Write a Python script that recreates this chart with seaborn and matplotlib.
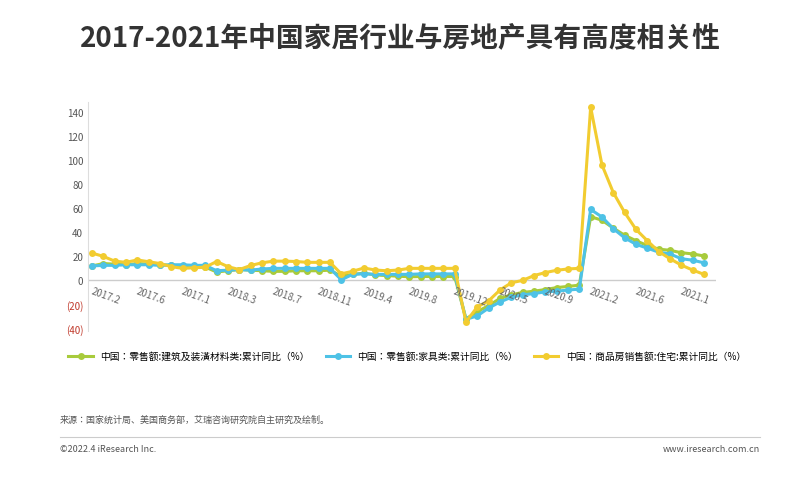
import matplotlib
matplotlib.use("Agg")
import matplotlib.pyplot as plt
from matplotlib import font_manager as fm
import seaborn as sns
import pandas as pd

cjk = [f.name for f in fm.fontManager.ttflist if "CJK" in f.name]
plt.rcParams["font.family"] = "sans-serif"
plt.rcParams["font.sans-serif"] = ["Noto Sans CJK SC", "Noto Sans CJK JP"] + sorted(set(cjk)) + ["DejaVu Sans"]

tick_labels = ["2017.2","2017.6","2017.1","2018.3","2018.7","2018.11","2019.4","2019.8",
               "2019.12","2020.5","2020.9","2021.2","2021.6","2021.1"]

green = [12,14,13.5,13,14,13.5,13,12.5,11,11,11,
         7,8,9,8.5,8,7.5,7.5,8,8,8,8.5,
         3.5,5,6,4.5,4,3.5,3,3.2,3.2,3.2,3.2,
         -32,-26,-21,-15,-12,-10,-9,-7.6,-6,-5,-4,
         53,50,43.5,37.5,33,29,26,25,23,22,20.3]
blue = [12,12.5,12.5,13,13,13,12.5,13,13,12.5,12.5,
        8,8.5,9,8.5,9.5,10,10,10,10,10,10,
        0.5,5,5.5,5,5,5,5,5.4,5.4,5.4,5.4,
        -32.4,-29.5,-23,-18,-14,-12,-11,-9.5,-9,-8,-7.3,
        59,52.7,43,35.4,30,26.8,23.5,22,18,16.8,14.6]
yellow = [22.7,20,16,15,17,15.5,14,11.4,10,10.5,11,
          15.7,11.4,9,12.4,14.6,16,16,15.7,15,15,15,
          5.4,7.6,10.3,8.6,8,8.6,10,10,10,10,10,
          -34.6,-22,-17,-8,-2,0,4,6.5,8.4,9.5,10,
          144,96,73,56.5,42.4,33,24,18,12.7,8.6,5]

names = ["中国：零售额:建筑及装潢材料类:累计同比（%）",
         "中国：零售额:家具类:累计同比（%）",
         "中国：商品房销售额:住宅:累计同比（%）"]
colors = ["#A8CB3C", "#4EC2E6", "#F2CC30"]

rows = []
for n, vals in zip(names, [green, blue, yellow]):
    for i, v in enumerate(vals):
        rows.append({"idx": i, "value": v, "series": n})
df = pd.DataFrame(rows)

fig = plt.figure(figsize=(8, 4.81), dpi=100)
ax = fig.add_axes([0.11, 0.31, 0.785, 0.475])
sns.lineplot(data=df, x="idx", y="value", hue="series", palette=colors, marker="o",
             markersize=5, markeredgewidth=0, linewidth=2.2, ax=ax, legend=True)
ax.set_xlim(-0.35, 55.06)
ax.set_ylim(-42, 148)
ax.set_yticks(range(-40, 141, 20))
ax.set_yticklabels(["(40)", "(20)"] + [str(v) for v in range(0, 141, 20)], fontsize=7, color="#555555")
for t in ax.get_yticklabels()[:2]:
    t.set_color("#C0392B")
ax.set_xticks([])
ax.set_xlabel(""); ax.set_ylabel("")
ax.axhline(0, color="#cccccc", lw=1, zorder=0)
for s in ["top", "right", "bottom"]:
    ax.spines[s].set_visible(False)
ax.spines["left"].set_color("#dddddd")
ax.tick_params(axis="y", length=0)
for k, lab in enumerate(tick_labels):
    ax.text(k * 4 - 0.2, -4, lab, rotation=-20, ha="left", va="top", fontsize=7, color="#666666")
ax.legend(loc="upper left", bbox_to_anchor=(-0.045, -0.05), ncol=3, frameon=False,
          fontsize=7, handlelength=2.5, columnspacing=1.6)

fig.text(0.5, 0.92, "2017-2021年中国家居行业与房地产具有高度相关性", ha="center", va="center",
         fontsize=20, fontweight="bold", color="#333333")
fig.text(0.075, 0.12, "来源：国家统计局、美国商务部，艾瑞咨询研究院自主研究及绘制。", fontsize=6.5, color="#555555")
fig.add_artist(plt.Line2D([0.075, 0.95], [0.09, 0.09], color="#cccccc", lw=0.8))
fig.text(0.075, 0.065, "©2022.4 iResearch Inc.", fontsize=6.5, color="#555555", va="center")
fig.text(0.95, 0.065, "www.iresearch.com.cn", fontsize=6.5, color="#555555", va="center", ha="right")
fig.savefig("out.png", dpi=100)
